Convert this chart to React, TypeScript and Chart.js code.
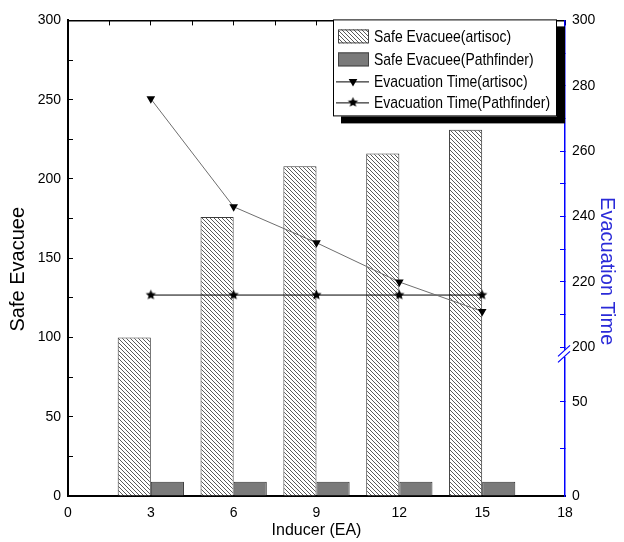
import React, { useEffect, useRef } from 'react';
import { Chart, registerables, LinearScale } from 'chart.js';

Chart.register(...registerables);

// ---------- data ----------
const inducerEA = [3, 6, 9, 12, 15];
const safeEvacueeArtisoc = [100, 176, 208, 216, 231];
const safeEvacueePathfinder = [9, 9, 9, 9, 9];
const evacuationTimeArtisoc = [276, 243, 232, 220, 211];
const evacuationTimePathfinder = [216, 216, 216, 216, 216];

const seriesLabels = [
  'Safe Evacuee(artisoc)',
  'Safe Evacuee(Pathfinder)',
  'Evacuation Time(artisoc)',
  'Evacuation Time(Pathfinder)',
];

const xTickLabels = [0, 3, 6, 9, 12, 15, 18];
const leftTickLabels = [0, 50, 100, 150, 200, 250, 300];
const rightTickValues = [0, 25, 50, 200, 210, 220, 230, 240, 250, 260, 270, 280, 290, 300];
const rightTickLabels = [0, 50, 200, 220, 240, 260, 280, 300];

const xTitle = 'Inducer (EA)';
const leftTitle = 'Safe Evacuee';
const rightTitle = 'Evacuation Time';

// ---------- styles ----------
const SANS = "'Liberation Sans', Arial, sans-serif";
const BLUE = '#0000ff';
const NARROW_SCALE = 0.82;

// broken right axis: 0..50 occupies lower part, 200..300 upper part
const LOW_MAX = 50;
const HIGH_MIN = 200;
const HIGH_MAX = 300;
const LOW_SHARE = 0.198;
const HIGH_START = 0.3125;

class BrokenLinearScale extends LinearScale {
  static id = 'brokenLinear';
  static defaults = {};
  buildTicks() {
    (this as any).start = (this as any).min;
    (this as any).end = (this as any).max;
    return rightTickValues.map((value) => ({ value }));
  }
  getPixelForValue(value: number) {
    let d: number;
    if (value <= LOW_MAX) d = (value / LOW_MAX) * LOW_SHARE;
    else if (value >= HIGH_MIN) d = HIGH_START + ((value - HIGH_MIN) / (HIGH_MAX - HIGH_MIN)) * (1 - HIGH_START);
    else d = LOW_SHARE + ((value - LOW_MAX) / (HIGH_MIN - LOW_MAX)) * (HIGH_START - LOW_SHARE);
    return (this as any).getPixelForDecimal(d);
  }
  getValueForPixel(pixel: number) {
    const d = (this as any).getDecimalForPixel(pixel);
    if (d <= LOW_SHARE) return (d / LOW_SHARE) * LOW_MAX;
    if (d >= HIGH_START) return HIGH_MIN + ((d - HIGH_START) / (1 - HIGH_START)) * (HIGH_MAX - HIGH_MIN);
    return LOW_MAX + ((d - LOW_SHARE) / (HIGH_START - LOW_SHARE)) * (HIGH_MIN - LOW_MAX);
  }
}
Chart.register(BrokenLinearScale as any);

function makeHatch(): CanvasPattern | string {
  const c = document.createElement('canvas');
  c.width = 4;
  c.height = 4;
  const g = c.getContext('2d');
  if (!g) return '#ccc';
  g.fillStyle = '#fff';
  g.fillRect(0, 0, 4, 4);
  g.strokeStyle = '#5a5a5a';
  g.lineWidth = 1;
  g.beginPath();
  g.moveTo(-1, -1);
  g.lineTo(5, 5);
  g.moveTo(-1, 3);
  g.lineTo(1, 5);
  g.moveTo(3, -1);
  g.lineTo(5, 1);
  g.stroke();
  const p = g.createPattern(c, 'repeat');
  return p || '#ccc';
}

function makeStar(r: number, color: string) {
  const size = Math.ceil(r * 2) + 2;
  const c = document.createElement('canvas');
  c.width = size;
  c.height = size;
  const g = c.getContext('2d')!;
  g.fillStyle = color;
  g.beginPath();
  for (let i = 0; i < 10; i++) {
    const rad = i % 2 === 0 ? r : r * 0.45;
    const a = -Math.PI / 2 + (i * Math.PI) / 5;
    const px = size / 2 + rad * Math.cos(a);
    const py = size / 2 + rad * Math.sin(a);
    if (i === 0) g.moveTo(px, py);
    else g.lineTo(px, py);
  }
  g.closePath();
  g.fill();
  return c;
}

function drawDownTriangle(ctx: CanvasRenderingContext2D, x: number, y: number, r: number) {
  ctx.beginPath();
  for (let i = 0; i < 3; i++) {
    const a = Math.PI + (i * 2 * Math.PI) / 3;
    const px = x + Math.sin(a) * r;
    const py = y - Math.cos(a) * r;
    if (i === 0) ctx.moveTo(px, py);
    else ctx.lineTo(px, py);
  }
  ctx.closePath();
  ctx.fillStyle = '#000';
  ctx.fill();
}

export default function App() {
  const ref = useRef<HTMLCanvasElement | null>(null);

  useEffect(() => {
    if (!ref.current) return;
    const hatch = makeHatch();
    const star = makeStar(5.4, '#000');

    const decor = {
      id: 'decor',
      afterDraw(chart: any) {
        const { ctx, chartArea } = chart;
        const midY = (chartArea.top + chartArea.bottom) / 2;
        ctx.save();

        // axis break on right axis
        const y2 = chart.scales.y2;
        const yb = y2.getPixelForValue(HIGH_MIN);
        const xr = chartArea.right;
        ctx.fillStyle = '#fff';
        ctx.fillRect(xr - 2, yb + 2.5, 4, 7);
        ctx.strokeStyle = BLUE;
        ctx.lineWidth = 1.2;
        ctx.beginPath();
        ctx.moveTo(xr - 7, yb + 9);
        ctx.lineTo(xr + 5, yb - 2);
        ctx.moveTo(xr - 7, yb + 15);
        ctx.lineTo(xr + 5, yb + 4);
        ctx.stroke();

        // y titles
        ctx.fillStyle = '#000';
        ctx.font = `20px ${SANS}`;
        ctx.textAlign = 'center';
        ctx.textBaseline = 'middle';
        ctx.save();
        ctx.translate(18, midY + 11);
        ctx.rotate(-Math.PI / 2);
        ctx.fillText(leftTitle, 0, 0);
        ctx.restore();
        ctx.save();
        ctx.fillStyle = '#2a2ad8';
        ctx.translate(chart.width - 17, midY + 13);
        ctx.rotate(Math.PI / 2);
        ctx.fillText(rightTitle, 0, 0);
        ctx.restore();

        // legend box
        const bx = chartArea.right - 232;
        const by = chartArea.top - 1;
        const bw = 224;
        const bh = 97;
        ctx.fillStyle = '#000';
        ctx.fillRect(bx + 8, by + 7, bw, bh);
        ctx.fillStyle = '#fff';
        ctx.fillRect(bx, by, bw, bh);
        ctx.strokeStyle = '#000';
        ctx.lineWidth = 1;
        ctx.strokeRect(bx + 0.5, by + 0.5, bw - 1, bh - 1);

        const rows = [17, 40, 62, 83];
        const ds = chart.data.datasets;
        const order = [0, 1, 2, 3];
        ctx.font = `17px ${SANS}`;
        ctx.textAlign = 'left';
        ctx.textBaseline = 'middle';
        order.forEach((di, k) => {
          const d = ds[di];
          const cy = by + rows[k];
          if (d.type === 'bar') {
            ctx.fillStyle = d.backgroundColor;
            ctx.fillRect(bx + 5, cy - 7, 31, 14);
            ctx.strokeStyle = '#444';
            ctx.lineWidth = 1;
            ctx.strokeRect(bx + 5.5, cy - 6.5, 30, 13);
          } else {
            ctx.strokeStyle = '#000';
            ctx.lineWidth = 1;
            ctx.beginPath();
            ctx.moveTo(bx + 3, cy + 0.5);
            ctx.lineTo(bx + 36, cy + 0.5);
            ctx.stroke();
            if (d.pointStyle === 'triangle') drawDownTriangle(ctx, bx + 20, cy, 5);
            else ctx.drawImage(star, bx + 20 - star.width / 2, cy - star.height / 2);
          }
          ctx.fillStyle = '#000';
          ctx.save();
          ctx.translate(bx + 41, cy + 1);
          ctx.scale(NARROW_SCALE, 1);
          ctx.fillText(d.label, 0, 0);
          ctx.restore();
        });
        ctx.restore();
      },
    };

    const tickFont = { family: SANS, size: 14 };

    const chart = new Chart(ref.current, {
      type: 'bar',
      data: {
        datasets: [
          {
            type: 'bar',
            label: seriesLabels[0],
            data: inducerEA.map((x, i) => ({ x, y: safeEvacueeArtisoc[i] })),
            backgroundColor: hatch as any,
            borderColor: '#3a3a3a',
            borderWidth: 1,
            xAxisID: 'x',
            yAxisID: 'y',
            categoryPercentage: 0.8,
            barPercentage: 1,
            order: 2,
          },
          {
            type: 'bar',
            label: seriesLabels[1],
            data: inducerEA.map((x, i) => ({ x, y: safeEvacueePathfinder[i] })),
            backgroundColor: '#7a7a7a',
            borderColor: '#333',
            borderWidth: 1,
            xAxisID: 'x',
            yAxisID: 'y',
            categoryPercentage: 0.8,
            barPercentage: 1,
            order: 2,
          },
          {
            type: 'line',
            label: seriesLabels[2],
            data: inducerEA.map((x, i) => ({ x, y: evacuationTimeArtisoc[i] })),
            borderColor: '#6e6e6e',
            borderWidth: 1,
            pointStyle: 'triangle',
            pointRotation: 180,
            pointRadius: 5,
            pointBackgroundColor: '#000',
            pointBorderColor: '#000',
            pointBorderWidth: 0,
            xAxisID: 'x',
            yAxisID: 'y2',
            order: 0,
          },
          {
            type: 'line',
            label: seriesLabels[3],
            data: inducerEA.map((x, i) => ({ x, y: evacuationTimePathfinder[i] })),
            borderColor: '#000',
            borderWidth: 1,
            pointStyle: star as any,
            pointRadius: 5,
            xAxisID: 'x',
            yAxisID: 'y2',
            order: 0,
          },
        ] as any,
      },
      options: {
        responsive: false,
        animation: false,
        devicePixelRatio: 1,
        layout: { padding: 0 },
        plugins: { legend: { display: false }, tooltip: { enabled: false } },
        scales: {
          x: {
            type: 'linear',
            position: 'bottom',
            min: 0,
            max: 18,
            offset: false,
            ticks: {
              stepSize: 3,
              autoSkip: false,
              maxRotation: 0,
              color: '#000',
              font: tickFont,
              padding: 9,
              callback: (v: any) => (xTickLabels.includes(Number(v)) ? String(v) : ''),
            },
            grid: { display: true, offset: false, drawOnChartArea: false, drawTicks: false },
            border: { display: true, color: '#000', width: 2 },
            title: {
              display: true,
              text: xTitle,
              color: '#000',
              font: { family: SANS, size: 16 },
              padding: { top: 0, bottom: 2 },
            },
            afterFit: (s: any) => {
              s.height = 46;
            },
          },
          x2: {
            type: 'linear',
            position: 'top',
            min: 0,
            max: 18,
            offset: false,
            ticks: { display: false, stepSize: 1.5, autoSkip: false },
            grid: { drawOnChartArea: false, tickLength: -5, tickColor: '#000', tickWidth: 1, offset: false },
            border: { display: true, color: '#000', width: 1.5 },
            afterFit: (s: any) => {
              s.height = 17;
            },
          },
          y: {
            type: 'linear',
            position: 'left',
            min: 0,
            max: 300,
            ticks: {
              stepSize: 25,
              autoSkip: false,
              color: '#000',
              font: tickFont,
              padding: 12,
              callback: (v: any) => (leftTickLabels.includes(Number(v)) ? String(v) : ''),
            },
            grid: { drawOnChartArea: false, tickLength: -5, tickColor: '#000', tickWidth: 1 },
            border: { display: true, color: '#000', width: 2 },
            afterFit: (s: any) => {
              s.width = 68;
            },
          },
          y2: {
            type: 'brokenLinear',
            position: 'right',
            min: 0,
            max: 300,
            ticks: {
              autoSkip: false,
              color: '#000',
              font: tickFont,
              padding: 12,
              callback: (v: any) => (rightTickLabels.includes(Number(v)) ? String(v) : ''),
            },
            grid: { drawOnChartArea: false, tickLength: -5, tickColor: BLUE, tickWidth: 1 },
            border: { display: true, color: BLUE, width: 1.5 },
            afterFit: (s: any) => {
              s.width = 59;
            },
          },
        } as any,
      },
      plugins: [decor],
    });
    return () => chart.destroy();
  }, []);

  return (
    <div style={{ position: 'fixed', left: 0, top: 0, width: 624, height: 542, background: '#fff' }}>
      <canvas ref={ref} width={624} height={542} />
    </div>
  );
}
